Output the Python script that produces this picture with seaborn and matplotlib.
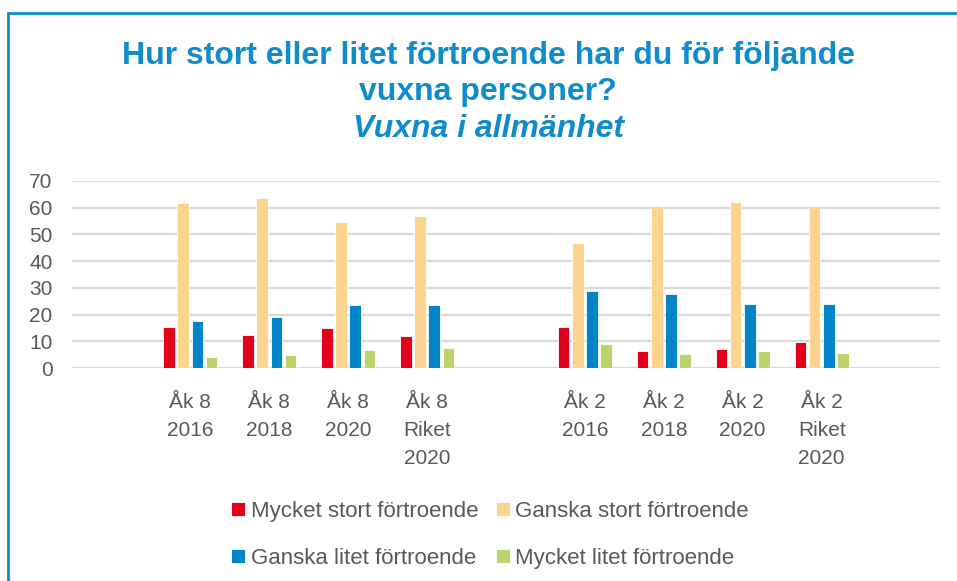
import pandas as pd
import seaborn as sns
import matplotlib.pyplot as plt
from matplotlib.patches import Rectangle

# Data (percent)
groups = ['b1', 'Åk 8\n2016', 'Åk 8\n2018', 'Åk 8\n2020', 'Åk 8\nRiket\n2020',
          'b2', 'Åk 2\n2016', 'Åk 2\n2018', 'Åk 2\n2020', 'Åk 2\nRiket\n2020', 'b3']
real_groups = [g for g in groups if not g.startswith('b')]
series = ['Mycket stort förtroende', 'Ganska stort förtroende',
          'Ganska litet förtroende', 'Mycket litet förtroende']
mycket_stort = [15.3, 12.4, 14.8, 11.9, 15.3, 6.2, 7.1, 9.7]
ganska_stort = [61.7, 63.7, 54.5, 57.0, 46.9, 60.8, 62.2, 60.8]
ganska_litet = [17.7, 19.2, 23.5, 23.5, 28.7, 27.7, 23.9, 23.9]
mycket_litet = [4.2, 4.7, 6.7, 7.6, 9.1, 5.3, 6.2, 5.7]
colors = ['#E3001B', '#FCD38F', '#0086C8', '#BDD46D']

df = pd.DataFrame({'grupp': real_groups,
                   series[0]: mycket_stort, series[1]: ganska_stort,
                   series[2]: ganska_litet, series[3]: mycket_litet})
long = df.melt(id_vars='grupp', var_name='svar', value_name='andel')

sns.set_style('white')
plt.rcParams['font.family'] = ['Liberation Sans', 'DejaVu Sans']

fig = plt.figure(figsize=(9.57, 5.81), dpi=100)
ax = fig.add_axes([72 / 957, 213 / 581, 868 / 957, 187 / 581])

sns.barplot(data=long, x='grupp', y='andel', hue='svar', order=groups,
            hue_order=series, palette=colors, saturation=1, width=0.72,
            gap=0.18, edgecolor='white', linewidth=0.6, ax=ax, legend=True)

ax.set_ylim(0, 70)
ax.set_xlim(-0.5, len(groups) - 0.5)
ax.set_yticks(range(0, 71, 10))
ax.yaxis.grid(True, color='#d9d9d9', linewidth=1.6)
ax.set_axisbelow(True)
for s in ax.spines.values():
    s.set_visible(False)
ax.set_xlabel('')
ax.set_ylabel('')
ax.set_xticks(range(len(groups)))
ax.set_xticklabels(['' if g.startswith('b') else g for g in groups],
                   linespacing=1.6)
ax.tick_params(axis='both', labelsize=15, colors='#595959', length=0)
ax.tick_params(axis='x', pad=18)
ax.tick_params(axis='y', pad=14)

# legend rows: Mycket stort / Ganska stort, then Ganska litet / Mycket litet
handles, labels = ax.get_legend_handles_labels()
ax.get_legend().remove()
order = [0, 2, 1, 3]
fig.legend([handles[i] for i in order], [labels[i] for i in order], ncol=2,
           loc='center', bbox_to_anchor=(490 / 957, 1 - 535 / 581),
           frameon=False, fontsize=16, labelcolor='#595959',
           handlelength=0.62, handleheight=0.6, handletextpad=0.25,
           columnspacing=0.8, labelspacing=1.15)

title_color = '#0E8CCB'
fig.text(488 / 957, 1 - 64 / 581, 'Hur stort eller litet förtroende har du för följande',
         ha='center', va='baseline', fontsize=23, fontweight='bold', color=title_color)
fig.text(488 / 957, 1 - 100 / 581, 'vuxna personer?', ha='center',
         va='baseline', fontsize=23, fontweight='bold', color=title_color)
fig.text(488 / 957, 1 - 137 / 581, 'Vuxna i allmänhet', ha='center',
         va='baseline', fontsize=23, fontweight='bold', style='italic',
         color=title_color)

# blue chart frame (top and left edges visible in the reference)
fig.patches.append(Rectangle((8 / 957, -0.05), 1.2, 1 - 13 / 581 + 0.05,
                             transform=fig.transFigure, fill=False,
                             edgecolor=title_color, linewidth=2))

plt.savefig('out.png', dpi=100)
